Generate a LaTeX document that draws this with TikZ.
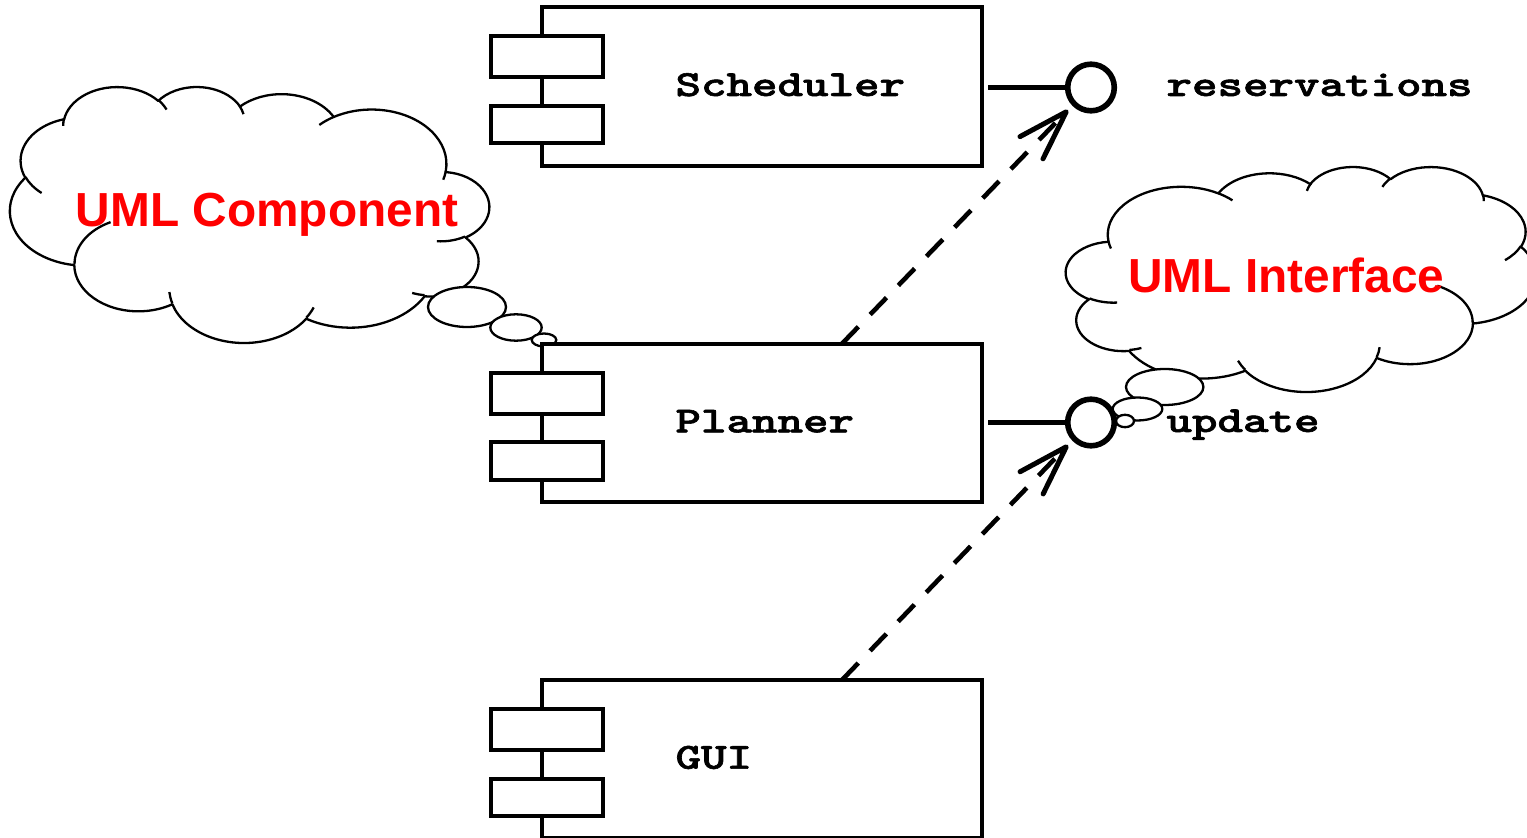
\documentclass[tikz,border=0pt]{standalone}
\usepackage{fontspec}
\usetikzlibrary{arrows.meta}
\newfontfamily\notefont{Liberation Sans}
\newfontfamily\codefont{lmmonolt10-bold}[Extension=.otf, FakeBold=1.5]

% geometric angle on an ellipse with radii a,b  ->  parametric angle used by TikZ arcs
\pgfmathdeclarefunction{gtp}{3}{%
  \pgfmathparse{#1+atan((#2/#3-1)*sin(#1)*cos(#1)/(cos(#1)^2+(#2/#3)*sin(#1)^2))}%
}
% one elliptic arc of a cloud: x radius, y radius, start and end angle (geometric)
\newcommand\cldarc[4]{arc[start angle={gtp(#3,#1,#2)}, end angle={gtp(#4,#1,#2)}, x radius=#1pt, y radius=#2pt]}

% cloud outline in a 432 x 432 frame (y pointing down)
\newcommand\cloudoutline{%
  (39.00pt,143.70pt)
  \cldarc{67.53}{91.90}{-190.4875}{-66.7070}
  \cldarc{53.33}{72.67}{-144.1024}{-54.1572}
  \cldarc{43.65}{59.45}{-145.8079}{-46.0849}
  \cldarc{48.57}{65.95}{-130.9861}{-13.7444}
  \cldarc{53.33}{72.73}{-78.7089}{30.3180}
  \cldarc{67.75}{92.20}{-46.2673}{84.0018}
  \cldarc{57.85}{78.67}{0.6250}{114.6583}
  \cldarc{67.52}{92.15}{22.4516}{137.6242}
  \cldarc{77.20}{105.43}{66.2426}{141.9536}
  \cldarc{43.60}{59.18}{-274.9421}{-128.2065}
  \cldarc{43.45}{59.45}{-246.8285}{-94.3097}
  -- cycle}
% the short inner arcs where the bulges meet
\newcommand\cloudtics{%
  (46.93pt,261.77pt) \cldarc{43.45}{59.45}{86.7420}{113.1715}
  (69.28pt,348.99pt) \cldarc{43.60}{59.18}{73.6105}{85.0580}
  (164.78pt,390.90pt) \cldarc{67.52}{92.15}{137.6242}{151.7053}
  (288.27pt,347.51pt) \cldarc{67.52}{92.15}{6.4533}{22.4516}
  (341.29pt,229.54pt) \cldarc{57.85}{78.67}{-70.2924}{0.6250}
  (417.98pt,153.54pt) \cldarc{53.33}{72.73}{30.3180}{58.0695}
  (383.24pt,54.26pt) \cldarc{48.57}{65.95}{-13.7443}{1.1146}
  (290.78pt,39.52pt) \cldarc{48.57}{65.95}{-149.1815}{-130.9861}
  (221.41pt,47.20pt) \cldarc{43.65}{59.45}{-163.4943}{-145.8079}
  (140.00pt,51.92pt) \cldarc{67.53}{91.90}{-66.7070}{-54.3876}
  (41.27pt,157.89pt) \cldarc{67.53}{91.90}{157.6544}{169.5126}}

% UML component: body, two ports, name
\newcommand\umlcomp[3]{%
  \node[compbody, anchor=north west] (#1) at (542,#2) {};
  \node[compport, minimum height=20.5pt, anchor=north west] (#1-up) at (490.7,{#2+29}) {};
  \node[compport, minimum height=18.65pt, anchor=north west] (#1-lo) at (490.7,{#2+98.7}) {};
  \node[monolabel] (#1-name) at (675,{#2+88.7}) {#3};
}

\begin{document}
\begin{tikzpicture}[x=0.5pt, y=-0.5pt,
  cloudline/.style={line width=1.15pt, line join=round},
  bubble/.style={draw, line width=1.15pt, fill=white},
  compbody/.style={draw, fill=white, line width=2.05pt, rectangle, inner sep=0pt, outer sep=0pt,
    minimum width=220pt, minimum height=79.2pt},
  compport/.style={draw, fill=white, line width=2.05pt, rectangle, inner sep=0pt, outer sep=0pt,
    minimum width=56.3pt},
  monolabel/.style={font=\codefont\fontsize{18.4pt}{20pt}\selectfont,
    inner sep=0pt, xscale=1.32, anchor=base west},
  iface/.style={draw, fill=white, circle, line width=2.8pt, minimum size=23.3pt,
    inner sep=0pt, outer sep=0pt},
  stick/.style={line width=2.05pt},
  dep/.style={line width=2.3pt, dash pattern=on 11.75pt off 8.5pt,
    -{Straight Barb[length=25pt, width=16pt, line width=2.5pt, round]}},
  note/.style={font=\notefont\bfseries\fontsize{23.9pt}{26pt}\selectfont, text=red,
    inner sep=0pt, anchor=base}
]
\useasboundingbox (0,0) rectangle (1527,838);

% thought cloud on the left (mirrored)
\begin{scope}[shift={(489,86.2)}, xscale=-0.5544, yscale=-0.29618]
  \draw[cloudline, fill=white] \cloudoutline;
  \draw[cloudline] \cloudtics;
\end{scope}
\draw[bubble] (467,307) ellipse [x radius=19.5pt, y radius=10pt];
\draw[bubble] (516,327.5) ellipse [x radius=12.85pt, y radius=6.6pt];
\draw[bubble] (544,340) ellipse [x radius=6.15pt, y radius=3.25pt];

% thought cloud on the right
\begin{scope}[shift={(1066,166.3)}, xscale=0.54398, yscale=-0.26031]
  \draw[cloudline, fill=white] \cloudoutline;
  \draw[cloudline] \cloudtics;
\end{scope}
\draw[bubble] (1164.7,387) ellipse [x radius=19.35pt, y radius=9pt];
\draw[bubble] (1137.5,409) ellipse [x radius=12.4pt, y radius=5.75pt];
\draw[bubble] (1125,421) ellipse [x radius=4.5pt, y radius=3.1pt];

% components
\umlcomp{sched}{7.3}{Scheduler}
\umlcomp{plan}{343.7}{Planner}
\umlcomp{gui}{680}{GUI}

% provided interfaces
\node[iface] (resv) at (1091,87.5) {};
\node[iface] (upd) at (1091,422.5) {};
\draw[stick] ([xshift=3pt]resv.west -| sched.east) -- (resv.west);
\draw[stick] ([xshift=3pt]upd.west -| plan.east) -- (upd.west);
\node[monolabel] (resv-name) at (1166,96) {reservations};
\node[monolabel] (upd-name) at (1166,432) {update};

% dependencies
\draw[dep] ([xshift=150pt]plan.north west) -- ([shift={(-23,22.5)}]resv.center);
\draw[dep] ([xshift=150pt]gui.north west) -- ([shift={(-23,22.5)}]upd.center);

% cloud texts
\node[note] (comp-note) at (267,226.7) {UML Component};
\node[note] (iface-note) at (1286.3,292.7) {UML Interface};
\end{tikzpicture}
\end{document}
